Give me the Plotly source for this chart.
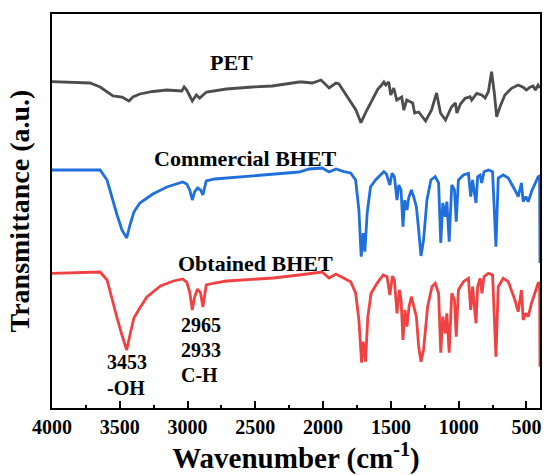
import plotly.graph_objects as go

# ---------------- data (wavenumber in cm^-1, transmittance in a.u.) ----------------
pet_wn = [4000, 3866, 3719, 3645, 3550, 3484, 3432, 3403, 3352, 3256, 3153, 3043, 3025, 3006,
          2965, 2935, 2911, 2860, 2713, 2522, 2375, 2177, 2154, 2081, 2015, 1956, 1905, 1883,
          1809, 1758, 1721, 1677, 1611, 1596, 1574, 1552, 1538, 1516, 1501, 1479, 1457, 1420,
          1405, 1383, 1339, 1325, 1295, 1244, 1200, 1163, 1134, 1097, 1053, 1024, 1013, 987,
          952, 916, 904, 867, 830, 805, 781, 757, 737, 720, 695, 659, 610, 561, 524, 500, 475,
          451, 434, 414, 400]
pet_t = [318.3, 318, 317, 313, 304, 303, 299, 303, 306, 308.5, 310, 309, 313, 310,
         299, 305, 302, 308, 311, 313, 314, 318, 318, 317, 320, 312, 317, 316,
         300, 290, 277.3, 290, 307, 311, 314, 318, 315, 318, 305, 312, 300, 303,
         290, 300, 297, 287, 288, 279, 290, 307, 287, 280, 293, 297, 287, 296,
         301.7, 303.3, 300, 306.7, 305, 302, 308.3, 328.3, 307, 283.3, 293.3, 305, 311.7, 315,
         312.7, 310, 312.7, 314, 310, 315, 312]

com_wn = [4000, 3645, 3594, 3557, 3520, 3484, 3449, 3425, 3396, 3352, 3256, 3153, 3036, 3006,
          2984, 2965, 2948, 2926, 2904, 2887, 2862, 2801, 2713, 2492, 2177, 2103, 2008, 1956,
          1905, 1846, 1797, 1760, 1736, 1719, 1704, 1692, 1675, 1650, 1613, 1577, 1552, 1533,
          1508, 1491, 1474, 1455, 1442, 1425, 1411, 1398, 1381, 1369, 1349, 1332, 1312, 1295,
          1278, 1259, 1234, 1205, 1173, 1148, 1132, 1117, 1099, 1087, 1070, 1051, 1031, 1018,
          1002, 965, 928, 911, 897, 884, 872, 860, 842, 830, 813, 781, 750, 725, 708, 671, 634,
          585, 561, 537, 524, 504, 487, 463, 438, 414, 403, 400]
com_t = [230, 230, 220, 202, 185, 170, 162, 175, 188, 197, 206, 213, 218, 216,
         210, 200, 208, 212, 210, 205, 219, 221, 222, 224, 228, 231, 232, 228,
         231, 228.3, 227, 220, 190, 143.3, 167, 148.3, 187, 213.3, 220, 225, 228.3, 226,
         215, 226.7, 223.3, 200, 215, 210, 173.3, 200, 190, 202, 210, 203.3, 193.3, 170,
         144, 160, 200, 220, 223.3, 217, 157, 197, 183.3, 198.3, 158.3, 215, 210, 178.3,
         220, 225, 226.7, 203.3, 220, 207, 197, 223.3, 225, 217, 228.3, 230, 228.3, 153.3, 222, 225, 222,
         210, 203.3, 217, 198.3, 203.3, 198.3, 208.3, 217, 223.3, 224, 137]

obt_wn = [4000, 3645, 3594, 3557, 3520, 3484, 3460, 3449, 3425, 3396, 3352, 3300, 3200, 3104,
          3036, 3006, 2984, 2965, 2948, 2926, 2904, 2887, 2862, 2801, 2713, 2610, 2492, 2367,
          2177, 2103, 2008, 1956, 1905, 1846, 1797, 1760, 1736, 1716, 1704, 1687, 1670, 1646,
          1602, 1557, 1528, 1508, 1488, 1474, 1455, 1437, 1425, 1411, 1396, 1381, 1366, 1349,
          1332, 1312, 1295, 1278, 1259, 1229, 1197, 1173, 1148, 1132, 1117, 1099, 1087, 1070,
          1051, 1031, 1018, 1002, 965, 928, 911, 897, 884, 872, 860, 842, 828, 813, 781, 750,
          725, 708, 671, 634, 585, 561, 537, 524, 504, 487, 463, 438, 414, 403, 400]
obt_t = [126.7, 128, 120, 100, 82, 65, 55, 50, 65, 82, 92, 103, 114, 119,
         121, 118, 108, 90, 103, 111, 107, 93, 115, 117, 119, 120, 121, 122,
         125, 126, 128, 122, 126, 121.7, 118.3, 107, 80, 37.3, 58.3, 38.3, 83.3, 106.7,
         116.7, 125, 123.3, 105, 124, 120, 86.7, 110, 100, 60, 90, 73.3, 93.3, 103.3,
         93.3, 83.3, 53.3, 38.3, 50, 93.3, 113.3, 116.7, 106.7, 47.3, 83.3, 66.7, 86.7, 47.3,
         106.7, 100, 63.3, 110, 118.3, 121.7, 90, 113.3, 93.3, 76.7, 113.3, 121.7, 106.7, 123.3, 126.7, 125,
         43.3, 113.3, 121.7, 118.3, 100, 88.3, 110, 80, 86.7, 83.3, 96.7, 106.7, 116.7, 117, 33.3]

series_names = ["PET", "Commercial BHET", "Obtained BHET"]
x_ticks = [4000, 3500, 3000, 2500, 2000, 1500, 1000, 500]

# peak labels: (text, wavenumber of left edge, level)
peak_labels = [("3453", 3610, 38), ("-OH", 3610, 12.5),
               ("2965", 3060, 75), ("2933", 3060, 50.5), ("C-H", 3060, 25.5)]
# series labels: (text, wavenumber of centre, level)
series_labels = [("PET", 2678, 338), ("Commercial BHET", 2571, 242), ("Obtained BHET", 2498, 137)]

# ---------------- figure ----------------
FONT = "Liberation Serif"
colors = ["#4d4d4d", "#1f6fdc", "#f04242"]

fig = go.Figure()
for name, xs, ys, c in zip(series_names, [pet_wn, com_wn, obt_wn], [pet_t, com_t, obt_t], colors):
    fig.add_trace(go.Scatter(x=xs, y=ys, mode="lines", name=name,
                             line=dict(color=c, width=2.8), showlegend=False))

annotations = []
for txt, xw, yv in series_labels:
    annotations.append(dict(x=xw, y=yv, xref="x", yref="y", text="<b>%s</b>" % txt, showarrow=False,
                            xanchor="center", yanchor="middle",
                            font=dict(family=FONT, size=22, color="black")))
for txt, xw, yv in peak_labels:
    annotations.append(dict(x=xw, y=yv, xref="x", yref="y", text="<b>%s</b>" % txt, showarrow=False,
                            xanchor="left", yanchor="middle",
                            font=dict(family=FONT, size=20, color="black")))

fig.update_layout(
    width=547, height=475,
    margin=dict(l=52, r=5, t=14, b=67),
    plot_bgcolor="white", paper_bgcolor="white",
    annotations=annotations,
    font=dict(family=FONT, color="black", size=20),
    xaxis=dict(
        range=[4000, 400], tickmode="array", tickvals=x_ticks,
        ticktext=["<b>%d</b>" % v for v in x_ticks],
        ticks="inside", ticklen=7, tickwidth=2, tickcolor="black",
        showline=True, linewidth=2, linecolor="black", mirror=True,
        showgrid=False, zeroline=False,
        tickfont=dict(family=FONT, size=20, color="black"),
        minor=dict(ticks="inside", dtick=250, tick0=0, ticklen=3.5, tickwidth=2,
                   tickcolor="black", showgrid=False),
        title=dict(text="<b>Wavenumber (cm<sup>-1</sup>)</b>", standoff=4,
                   font=dict(family=FONT, size=29, color="black")),
    ),
    yaxis=dict(
        range=[-8, 386], showticklabels=False, ticks="", showline=True, linewidth=2,
        linecolor="black", mirror=True, showgrid=False, zeroline=False,
        title=dict(text="<b>Transmittance (a.u.)</b>", standoff=12,
                   font=dict(family=FONT, size=28, color="black")),
    ),
)

fig.write_html("out.html")
